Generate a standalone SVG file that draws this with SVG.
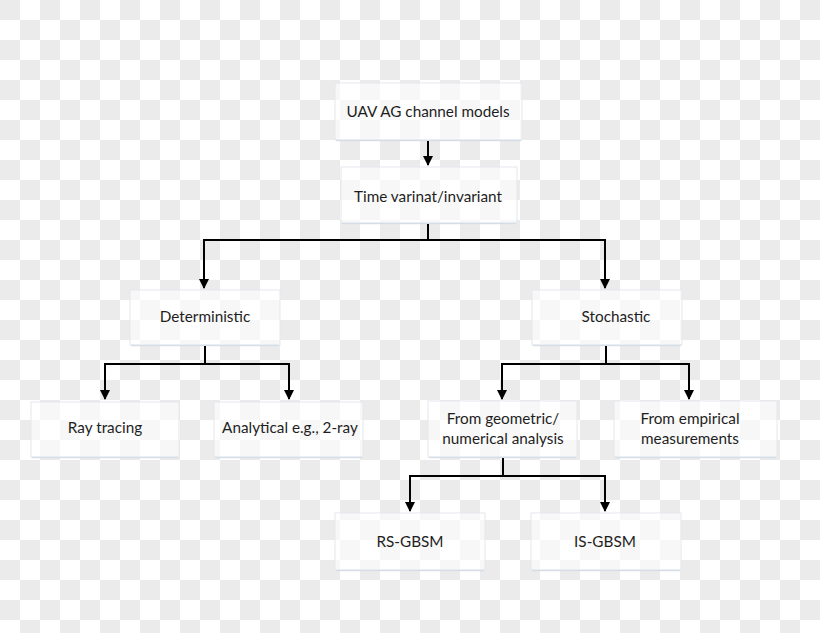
<svg xmlns="http://www.w3.org/2000/svg" width="820" height="633" viewBox="0 0 820 633">
<defs>
<pattern id="cb" width="40" height="40" patternUnits="userSpaceOnUse">
<rect width="40" height="40" fill="#ffffff"/>
<rect x="0" y="0" width="20" height="20" fill="#ebebeb"/>
<rect x="20" y="20" width="20" height="20" fill="#ebebeb"/>
</pattern>
<marker id="ah" markerWidth="10" markerHeight="11" refX="9" refY="5" orient="auto-start-reverse" markerUnits="userSpaceOnUse" viewBox="0 0 10 10">
<path d="M0,0 L10,5 L0,10 Z" fill="#000"/>
</marker>
<style>
.box{fill:#ffffff;fill-opacity:0.6;stroke:#e3e8ee;stroke-width:1}
.sh{fill:none;stroke:#d6dde6;stroke-width:1.5}
.t{font-family:Lato,"Open Sans",sans-serif;font-size:15.3px;fill:#1e1e1e;text-anchor:middle}
.c{fill:none;stroke:#000;stroke-width:2}
</style>
</defs>
<rect width="820" height="633" fill="url(#cb)"/>

<g id="n-uav"><rect class="box" x="335" y="83" width="187" height="57"/><line class="sh" x1="336" y1="140.5" x2="521" y2="140.5"/><text class="t" x="428" y="117">UAV AG channel models</text></g>
<g id="n-time"><rect class="box" x="341" y="167" width="176" height="56"/><line class="sh" x1="342" y1="223.5" x2="516" y2="223.5"/><text class="t" x="428" y="202">Time varinat/invariant</text></g>
<g id="n-det"><rect class="box" x="130" y="290" width="150" height="55"/><line class="sh" x1="131" y1="345.5" x2="279" y2="345.5"/><text class="t" x="205" y="322">Deterministic</text></g>
<g id="n-sto"><rect class="box" x="532" y="290" width="150" height="55"/><line class="sh" x1="533" y1="345.5" x2="681" y2="345.5"/><text class="t" x="616" y="322">Stochastic</text></g>
<g id="n-ray"><rect class="box" x="31" y="402" width="148" height="55"/><line class="sh" x1="32" y1="457.5" x2="178" y2="457.5"/><text class="t" x="105" y="433">Ray tracing</text></g>
<g id="n-ana"><rect class="box" x="214" y="402" width="149" height="55"/><line class="sh" x1="215" y1="457.5" x2="362" y2="457.5"/><text class="t" x="290" y="433">Analytical e.g., 2-ray</text></g>
<g id="n-geo"><rect class="box" x="428" y="401" width="149" height="56"/><line class="sh" x1="429" y1="457.5" x2="576" y2="457.5"/><text class="t" x="503" y="424">From geometric/</text><text class="t" x="503" y="444">numerical analysis</text></g>
<g id="n-emp"><rect class="box" x="614" y="401" width="163" height="56"/><line class="sh" x1="615" y1="457.5" x2="776" y2="457.5"/><text class="t" x="690" y="424">From empirical</text><text class="t" x="690" y="444">measurements</text></g>
<g id="n-rs"><rect class="box" x="335" y="513" width="150" height="57"/><line class="sh" x1="336" y1="570.5" x2="484" y2="570.5"/><text class="t" x="410" y="547">RS-GBSM</text></g>
<g id="n-is"><rect class="box" x="531" y="513" width="150" height="57"/><line class="sh" x1="532" y1="570.5" x2="680" y2="570.5"/><text class="t" x="605" y="547">IS-GBSM</text></g>

<g id="connectors">
<line class="c" x1="428" y1="141" x2="428" y2="165" marker-end="url(#ah)"/>
<polyline class="c" points="428,224 428,240"/>
<polyline class="c" points="204,288 204,240 605,240 605,288" marker-start="url(#ah)" marker-end="url(#ah)"/>
<polyline class="c" points="205,346 205,364"/>
<polyline class="c" points="105,399 105,364 289,364 289,399" marker-start="url(#ah)" marker-end="url(#ah)"/>
<polyline class="c" points="606,346 606,364"/>
<polyline class="c" points="502,399 502,364 689,364 689,399" marker-start="url(#ah)" marker-end="url(#ah)"/>
<polyline class="c" points="503,458 503,476"/>
<polyline class="c" points="410,511 410,476 605,476 605,511" marker-start="url(#ah)" marker-end="url(#ah)"/>
</g>
</svg>
